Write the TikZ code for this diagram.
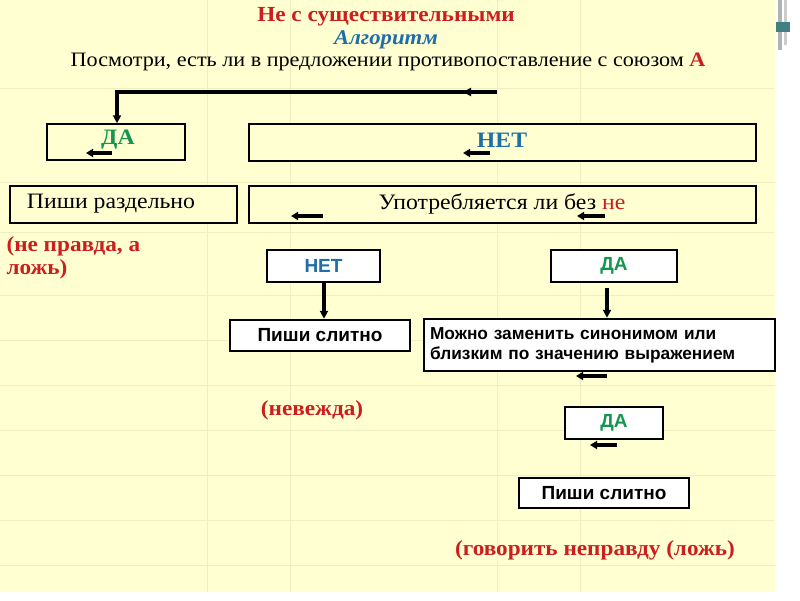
\documentclass[tikz,border=0pt]{standalone}
\usepackage{fontspec}
\setmainfont{Liberation Serif}[FakeStretch=1.08]
\newfontfamily\sans{Liberation Sans}
\usetikzlibrary{arrows.meta}
\definecolor{bg}{RGB}{255,255,210}
\definecolor{gridc}{RGB}{238,238,195}
\definecolor{tred}{RGB}{204,30,30}
\definecolor{tblue}{RGB}{30,110,170}
\definecolor{tgreen}{RGB}{20,150,80}
\tikzset{
 box/.style={draw=black,line width=1.5pt,fill=bg,inner sep=0pt},
 sbox/.style={draw=black,line width=2.5pt,fill=white,inner sep=0pt},
 flow/.style={line width=3.2pt,-{Triangle[length=8pt,width=8pt]}},
 tick/.style={line width=3.2pt,-{Triangle[length=7pt,width=8pt]}},
 stext/.style={font=\sans\bfseries\fontsize{19}{21}\selectfont},
 redt/.style={font=\bfseries\fontsize{21.5}{22}\selectfont,text=tred},
}
\begin{document}
\begin{tikzpicture}[x=1pt,y=-1pt]
\useasboundingbox (0,0) rectangle (800,600);
\fill[white] (0,0) rectangle (800,600);
\fill[bg] (0,0) rectangle (775,592);
\foreach \yy in {88,182,232,295,340,385,430,475,520,565} \draw[gridc,line width=1pt] (0,\yy)--(775,\yy);
\foreach \xx in {207,290,497,580} \draw[gridc,line width=1pt] (\xx,0)--(\xx,592);
\fill[gray!60] (778,0) rectangle (782,50);
\fill[gray!40] (784,0) rectangle (787,45);
\fill[teal!50!gray] (776,22) rectangle (790,32);
\node[redt] (t1) at (386,17) {Не с существительными};
\node[font=\bfseries\itshape\fontsize{21}{22}\selectfont,text=tblue] (t2) at (386,40) {Алгоритм};
\node[font=\fontsize{20.5}{22}\selectfont] (t3) at (388,62) {Посмотри, есть ли в предложении противопоставление с союзом {\bfseries\color{tred}А}};
\node[box,minimum width=138,minimum height=36] (da1) at (116,142) {};
\node[font=\bfseries\fontsize{22}{24}\selectfont,text=tgreen] at (118,140) {ДА};
\node[box,minimum width=507,minimum height=37] (net1) at (502.5,142.5) {};
\node[font=\bfseries\fontsize{22}{24}\selectfont,text=tblue] at (502,140) {НЕТ};
\coordinate (s) at (497,92);
\draw[flow] (s) -- (117,92) -- (da1.north -| 117,0);
\draw[line width=3.2pt,-{Triangle[length=8pt,width=8pt]}] (497,92)--(463,92);
\draw[tick] (112,153)--(86,153);
\draw[tick] (490,153)--(463,153);
\node[box,minimum width=227,minimum height=37] (pr) at (123.5,204.5) {};
\node[font=\fontsize{22}{24}\selectfont] at (111,204) {Пиши раздельно};
\node[box,minimum width=507,minimum height=37] (up) at (502.5,204.5) {};
\node[font=\fontsize{22}{24}\selectfont] at (502,204) {Употребляется ли без {\color{tred}не}};
\draw[tick] (323,216)--(291,216);
\draw[tick] (605,216)--(577,216);
\node[redt,anchor=north west,align=left,font=\bfseries\fontsize{21.5}{23}\selectfont] (np) at (3,233) {(не правда, а\\ложь)};
\node[sbox,stext,minimum width=113,minimum height=32,text=tblue] (net2) at (323.5,266) {НЕТ};
\node[sbox,stext,minimum width=126,minimum height=32,text=tgreen] (da2) at (614,266) {ДА};
\node[sbox,stext,minimum width=180,minimum height=31] (ps1) at (320,335.5) {Пиши слитно};
\node[sbox,minimum width=351,minimum height=52,align=left,text width=339,font=\sans\bfseries\fontsize{17.3}{20}\selectfont] (mz) at (599.5,345) {Можно заменить синонимом или\\близким по значению выражением};
\draw[flow] (net2.south -| 324,0) -- (ps1.north -| 324,0);
\draw[flow] (607,288) -- (mz.north -| 607,0);
\draw[tick] (607,376)--(576,376);
\node[redt] (nev) at (312,410) {(невежда)};
\node[sbox,stext,minimum width=98,minimum height=32,text=tgreen] (da3) at (614,423) {ДА};
\draw[tick] (617,445)--(590,445);
\node[sbox,stext,minimum width=170,minimum height=30] (ps2) at (604,493) {Пиши слитно};
\node[redt] (gov) at (595,550) {(говорить неправду (ложь)};
\end{tikzpicture}
\end{document}
